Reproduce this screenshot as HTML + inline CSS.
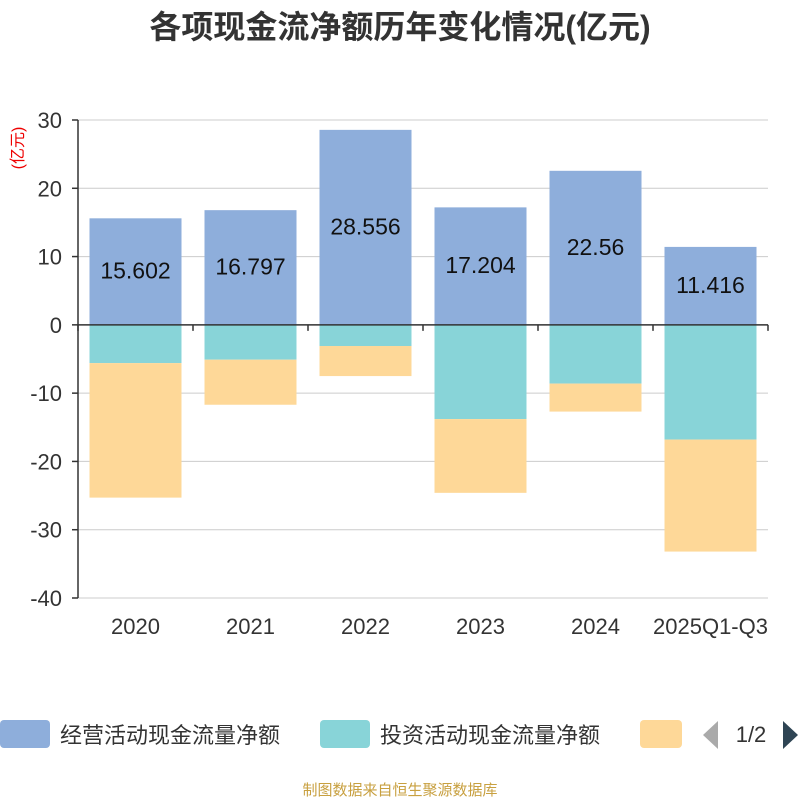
<!DOCTYPE html>
<html><head><meta charset="utf-8"><style>
body{margin:0;background:#fff;font-family:"Liberation Sans","Noto Sans CJK SC",sans-serif}
svg text{font-family:"Liberation Sans","Noto Sans CJK SC",sans-serif}
</style></head><body>
<svg id="c" width="800" height="800">
<text x="400" y="38" text-anchor="middle" font-size="32" font-weight="bold" fill="#333">各项现金流净额历年变化情况(亿元)</text>
<text transform="translate(23,148) rotate(-90)" text-anchor="middle" font-size="16" fill="#e00">(亿元)</text>
<g id="grid"></g><g id="bars"></g><g id="axes"></g>
<g>
<rect x="0" y="720" width="50" height="28" rx="4" fill="#8eaedb"/>
<text x="60" y="743" font-size="22" fill="#333">经营活动现金流量净额</text>
<rect x="320" y="720" width="50" height="28" rx="4" fill="#88d4d8"/>
<text x="380" y="743" font-size="22" fill="#333">投资活动现金流量净额</text>
<rect x="640" y="720" width="42" height="28" rx="4" fill="#fed898"/>
<path d="M718 721 L703 735 L718 749 Z" fill="#aaa"/>
<text x="751" y="742" text-anchor="middle" font-size="22" fill="#333">1/2</text>
<path d="M783 721 L798 735 L783 749 Z" fill="#2f4554"/>
</g>
<text x="400" y="795" text-anchor="middle" font-size="15" fill="#c8a040">制图数据来自恒生聚源数据库</text>
</svg>
<script>
const categories=["2020","2021","2022","2023","2024","2025Q1-Q3"];
const operating=[15.602,16.797,28.556,17.204,22.56,11.416];
const investing=[-5.6,-5.1,-3.1,-13.8,-8.6,-16.8];
const financing=[-19.7,-6.6,-4.4,-10.8,-4.1,-16.4];
const yTicks=[30,20,10,0,-10,-20,-30,-40];
const NS="http://www.w3.org/2000/svg";
const x0=78,x1=768,yTop=120,yBot=598,yMax=30,yMin=-40;
const band=(x1-x0)/categories.length,bw=92;
function y(v){return yTop+(yMax-v)/(yMax-yMin)*(yBot-yTop);}
function xc(i){return x0+band*(i+0.5);}
function mk(p,t,a){const e=document.createElementNS(NS,t);for(const k in a)e.setAttribute(k,a[k]);p.appendChild(e);return e;}
const grid=document.getElementById('grid'),bars=document.getElementById('bars'),axes=document.getElementById('axes');
yTicks.forEach(v=>{
 const l=mk(grid,'line',{x1:x0,x2:x1,y1:y(v),y2:y(v),stroke:'#ccc','stroke-width':1});
 
 
 const t=mk(axes,'text',{x:62,y:y(v)+8,'text-anchor':'end','font-size':22,fill:'#333'});t.textContent=v;
 
 
});
categories.forEach((c,i)=>{
 const cx=xc(i),bx=cx-bw/2;
 const r1=mk(bars,'rect',{x:bx,y:y(operating[i]),width:bw,height:y(0)-y(operating[i]),fill:'#8eaedb'});
 
 
 const r2=mk(bars,'rect',{x:bx,y:y(0),width:bw,height:y(investing[i])-y(0),fill:'#88d4d8'});
 
 
 const tot=investing[i]+financing[i];
 const r3=mk(bars,'rect',{x:bx,y:y(investing[i]),width:bw,height:y(tot)-y(investing[i]),fill:'#fed898'});
 
 
 const lb=mk(bars,'text',{x:cx,y:(y(operating[i])+y(0))/2+7,'text-anchor':'middle','font-size':23,fill:'#111'});lb.textContent=operating[i];
 
 
 const xt=mk(axes,'text',{x:cx,y:634,'text-anchor':'middle','font-size':22,fill:'#333'});xt.textContent=c;
 
 
});
const ya=mk(axes,'line',{x1:x0,x2:x0,y1:yTop,y2:yBot,stroke:'#333','stroke-width':1.5});


const xa=mk(axes,'line',{x1:x0,x2:x1,y1:y(0),y2:y(0),stroke:'#333','stroke-width':1.5});


for(let i=0;i<=categories.length;i++){const tk=mk(axes,'line',{x1:x0+band*i,x2:x0+band*i,y1:y(0),y2:y(0)+6,stroke:'#333','stroke-width':1.5});
 
 }
yTicks.forEach(v=>{const tk=mk(axes,'line',{x1:x0-6,x2:x0,y1:y(v),y2:y(v),stroke:'#333','stroke-width':1.5});
 
 });
</script>
</body></html>
